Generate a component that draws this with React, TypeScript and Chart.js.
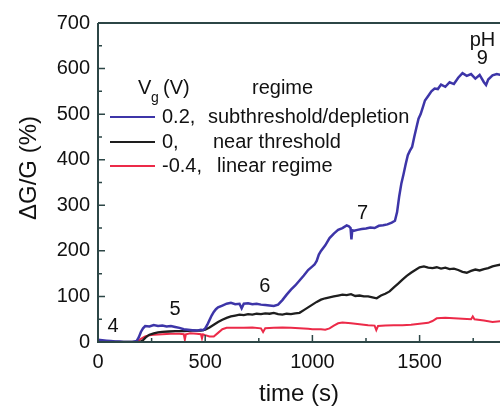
import React, { useEffect, useRef } from "react";
import { Chart, registerables } from "chart.js";

Chart.register(...registerables);

// ---- data ----
const blueTime = [0, 20, 40, 60, 80, 100, 120, 140, 160, 180, 190, 200, 210, 220, 240, 260, 280, 300, 320, 340, 360, 380, 400, 420, 440, 460, 480, 490, 500, 510, 520, 530, 540, 550, 560, 580, 600, 620, 640, 660, 670, 680, 700, 720, 740, 760, 780, 800, 820, 840, 860, 880, 900, 920, 940, 960, 980, 1000, 1010, 1020, 1030, 1040, 1060, 1080, 1100, 1120, 1140, 1160, 1170, 1178, 1182, 1186, 1195, 1210, 1230, 1250, 1270, 1290, 1310, 1330, 1350, 1370, 1385, 1395, 1405, 1415, 1425, 1435, 1445, 1455, 1465, 1475, 1485, 1495, 1505, 1515, 1525, 1540, 1555, 1570, 1585, 1600, 1620, 1640, 1660, 1680, 1700, 1720, 1740, 1760, 1780, 1800, 1810, 1820, 1840, 1860, 1880];
const blueValues = [5, 4, 3, 2, 1, 1, 0, 0, 0, 2, 10, 22, 30, 35, 34, 37, 35, 36, 34, 35, 33, 31, 28, 27, 26, 25, 27, 26, 30, 38, 48, 58, 66, 72, 76, 80, 84, 86, 83, 84, 74, 84, 85, 83, 84, 82, 81, 80, 79, 82, 92, 104, 115, 124, 135, 146, 158, 166, 170, 178, 192, 200, 212, 228, 238, 246, 250, 256, 254, 250, 225, 245, 244, 246, 248, 249, 251, 250, 255, 256, 258, 262, 266, 285, 320, 348, 368, 390, 410, 420, 428, 450, 470, 490, 500, 515, 530, 540, 550, 556, 555, 565, 560, 570, 566, 580, 590, 584, 588, 578, 586, 570, 564, 576, 585, 588, 586];

const blackTime = [0, 50, 100, 150, 200, 210, 220, 230, 240, 260, 280, 300, 330, 360, 400, 440, 480, 500, 520, 540, 560, 580, 600, 620, 640, 660, 680, 700, 720, 740, 760, 780, 800, 820, 840, 860, 880, 900, 920, 940, 960, 980, 1000, 1020, 1040, 1060, 1080, 1100, 1120, 1140, 1160, 1180, 1200, 1220, 1240, 1260, 1280, 1300, 1320, 1340, 1360, 1380, 1400, 1420, 1440, 1460, 1480, 1500, 1520, 1540, 1560, 1580, 1600, 1620, 1640, 1660, 1680, 1700, 1720, 1740, 1760, 1780, 1800, 1820, 1840, 1860, 1880];
const blackValues = [2, 1, 0, 0, 1, 4, 9, 13, 16, 19, 21, 22, 23, 24, 24, 25, 25, 27, 32, 38, 44, 49, 53, 56, 58, 60, 59, 61, 60, 62, 61, 63, 62, 64, 61, 60, 62, 61, 63, 64, 70, 76, 82, 88, 93, 96, 98, 100, 102, 104, 103, 105, 101, 102, 100, 100, 98, 96, 102, 106, 111, 120, 128, 137, 145, 152, 158, 164, 166, 163, 162, 164, 161, 163, 160, 161, 158, 154, 152, 156, 159, 157, 160, 162, 166, 168, 170];

const redTime = [0, 100, 180, 190, 200, 220, 240, 260, 300, 340, 380, 400, 405, 410, 430, 460, 480, 485, 490, 500, 520, 540, 560, 580, 600, 640, 680, 720, 760, 770, 780, 820, 860, 900, 940, 980, 1000, 1040, 1060, 1080, 1100, 1120, 1140, 1180, 1220, 1260, 1290, 1298, 1306, 1340, 1380, 1420, 1460, 1500, 1540, 1560, 1580, 1620, 1660, 1700, 1740, 1748, 1756, 1800, 1840, 1880];
const redValues = [0, 0, 0, 3, 7, 12, 15, 16, 17, 18, 18, 17, 5, 17, 19, 18, 17, 8, 17, 15, 12, 12, 20, 28, 31, 31, 31, 32, 30, 22, 30, 31, 32, 31, 30, 29, 28, 28, 27, 30, 36, 41, 43, 41, 39, 37, 36, 26, 35, 36, 37, 37, 38, 40, 42, 46, 52, 53, 52, 51, 50, 56, 50, 47, 44, 46];

const seriesLabels = ["0.2,", "0,", "-0.4,"];
const regimeLabels = ["subthreshold/depletion", "near threshold", "linear regime"];
const seriesColors = ["#3d35a8", "#1e1e1e", "#ec2a48"];

const phLabels = ["4", "5", "6", "7", "9", "pH"];
const phLabelTime = [70, 359, 778, 1234, 1793, 1793];
const phLabelValue = [34, 71, 121, 283, 623, 662];

const yTicks = [0, 100, 200, 300, 400, 500, 600, 700];
const xTicks = [0, 500, 1000, 1500];

const FONT = '"Liberation Sans", Arial, Helvetica, sans-serif';
const AXIS_COLOR = "#2c4646";

const toPoints = (t: number[], v: number[]) => t.map((x, i) => ({ x, y: v[i] }));

const decorPlugin = {
  id: "decor",
  afterDraw(chart: any) {
    const { ctx, chartArea } = chart;
    const xs = chart.scales.x;
    const ys = chart.scales.y;
    ctx.save();
    // axes lines: left, bottom, top
    ctx.strokeStyle = AXIS_COLOR;
    ctx.lineWidth = 2;
    ctx.beginPath();
    ctx.moveTo(chartArea.left, chartArea.top);
    ctx.lineTo(chartArea.left, chartArea.bottom);
    ctx.lineTo(chartArea.right, chartArea.bottom);
    ctx.moveTo(chartArea.left, chartArea.top);
    ctx.lineTo(chartArea.right, chartArea.top);
    ctx.stroke();
    // inward ticks
    ctx.lineWidth = 1.5;
    ctx.beginPath();
    for (let v = 0; v <= 700; v += 50) {
      const py = ys.getPixelForValue(v);
      const len = v % 100 === 0 ? 7 : 4;
      ctx.moveTo(chartArea.left, py);
      ctx.lineTo(chartArea.left + len, py);
    }
    for (let t = 0; t <= xs.max; t += 250) {
      const px = xs.getPixelForValue(t);
      const len = t % 500 === 0 ? 7 : 4;
      ctx.moveTo(px, chartArea.bottom);
      ctx.lineTo(px, chartArea.bottom - len);
    }
    ctx.stroke();

    // pH annotations
    ctx.fillStyle = "#111";
    ctx.font = `20px ${FONT}`;
    ctx.textAlign = "center";
    ctx.textBaseline = "middle";
    phLabels.forEach((s, i) => {
      ctx.fillText(s, xs.getPixelForValue(phLabelTime[i]), ys.getPixelForValue(phLabelValue[i]));
    });

    // axis titles
    ctx.font = `24px ${FONT}`;
    ctx.fillText("time (s)", (chartArea.left + 500) / 2, 394);
    ctx.save();
    ctx.translate(29, 168);
    ctx.rotate(-Math.PI / 2);
    ctx.fillText("\u0394G/G (%)", 0, 0);
    ctx.restore();

    // legend
    ctx.textAlign = "left";
    ctx.font = `20px ${FONT}`;
    ctx.fillText("V", 138, 88);
    ctx.font = `14px ${FONT}`;
    ctx.fillText("g", 151, 98);
    ctx.font = `20px ${FONT}`;
    ctx.fillText("(V)", 163, 88);
    ctx.fillText("regime", 252, 88);
    const rowY = [117, 142, 166];
    const regimeX = [208, 213, 217];
    seriesLabels.forEach((s, i) => {
      ctx.strokeStyle = seriesColors[i];
      ctx.lineWidth = 2;
      ctx.beginPath();
      ctx.moveTo(110, rowY[i]);
      ctx.lineTo(155, rowY[i]);
      ctx.stroke();
      ctx.fillStyle = "#111";
      ctx.fillText(s, 162, rowY[i]);
      ctx.fillText(regimeLabels[i], regimeX[i], rowY[i]);
    });
    ctx.restore();
  },
};

export default function App() {
  const ref = useRef<HTMLCanvasElement | null>(null);
  useEffect(() => {
    if (!ref.current) return;
    const chart = new Chart(ref.current, {
      type: "line",
      data: {
        datasets: [
          { label: seriesLabels[0], data: toPoints(blueTime, blueValues), borderColor: seriesColors[0], borderWidth: 2.5, pointRadius: 0, tension: 0 },
          { label: seriesLabels[1], data: toPoints(blackTime, blackValues), borderColor: seriesColors[1], borderWidth: 2.3, pointRadius: 0, tension: 0 },
          { label: seriesLabels[2], data: toPoints(redTime, redValues), borderColor: seriesColors[2], borderWidth: 2, pointRadius: 0, tension: 0 },
        ],
      },
      options: {
        responsive: false,
        animation: false,
        devicePixelRatio: 1,
        layout: { padding: { top: 23, right: 0, left: 0, bottom: 0 } },
        plugins: { legend: { display: false }, tooltip: { enabled: false }, title: { display: false } },
        scales: {
          x: {
            type: "linear",
            min: 0,
            max: 1875,
            grid: { display: false, drawTicks: false },
            border: { display: false },
            afterBuildTicks: (s: any) => { s.ticks = xTicks.map((v) => ({ value: v })); },
            ticks: { color: "#111", font: { family: FONT, size: 20 }, padding: 8, maxRotation: 0, autoSkip: false, callback: (v: any) => String(v) },
            afterFit: (s: any) => { s.height = 68; },
          },
          y: {
            type: "linear",
            min: 0,
            max: 700,
            grid: { display: false, drawTicks: false },
            border: { display: false },
            afterBuildTicks: (s: any) => { s.ticks = yTicks.map((v) => ({ value: v })); },
            ticks: { color: "#111", font: { family: FONT, size: 20 }, padding: 8, autoSkip: false, callback: (v: any) => String(v) },
            afterFit: (s: any) => { s.width = 98; },
          },
        },
      },
      plugins: [decorPlugin],
    } as any);
    return () => chart.destroy();
  }, []);
  return (
    <div style={{ position: "absolute", left: 0, top: 0, width: 500, height: 410, background: "#fff" }}>
      <canvas ref={ref} width={500} height={410} style={{ width: 500, height: 410, display: "block" }} />
    </div>
  );
}
